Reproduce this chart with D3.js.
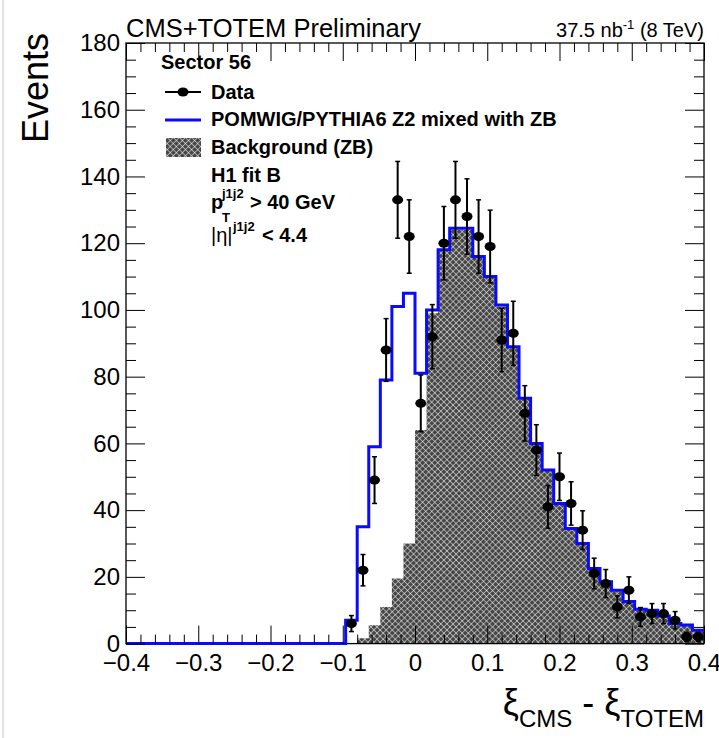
<!DOCTYPE html>
<html><head><meta charset="utf-8">
<script src="https://cdn.jsdelivr.net/npm/d3@7"></script>
<style>
html,body{margin:0;padding:0;background:#fff;}
svg text{font-family:"Liberation Sans",Arial,Helvetica,sans-serif;}
</style></head>
<body><svg id="c" width="719" height="738"></svg>
<script>
// ---- histogram definition: 50 bins from -0.4 to 0.4 ----
const xMin = -0.4, xMax = 0.4, nBins = 50;
// Data (bins 19..49 are non-empty)
const dataFirstBin = 19;
const dataValues = [6,22,49,88,133,122,72,92,120,133,128,122,119,91,93,69,58,41,50,42,34,21,18,11,16,8,9,9,7,2,2];
const dataErrors = [2.4,4.7,7,9.4,11.5,11,8.5,9.6,11,11.5,11.3,11,10.9,9.5,9.6,8.3,7.6,6.4,7.1,6.5,5.8,4.6,4.2,3.3,4,2.8,3,3,2.6,1.4,1.4];
// POMWIG/PYTHIA6 Z2 mixed with ZB (all 50 bins)
const mcValues = [0,0,0,0,0,0,0,0,0,0,0,0,0,0,0,0,0,0,0,
  7,35,59,79,101,105,81,100,118,124.5,124.5,116,110,101.5,89,73.5,60,52,42,34.5,30,22.5,18.5,16,12.6,10.3,10,8.3,6,5.6,4];
// Background (ZB) (all 50 bins)
const bgValues = [0,0,0,0,0,0,0,0,0,0,0,0,0,0,0,0,0,0,0,
  0,1.6,5.5,11,19.5,30,64,99,117.7,124,124,115.7,109.7,101,88.7,73.2,59.7,51.7,41.7,34.2,29.7,22.2,18.2,15.7,12.3,10,9.7,8,5.7,5.3,3.7];
// Axis ticks
const xTicks = [-0.4,-0.3,-0.2,-0.1,0,0.1,0.2,0.3,0.4];
const xTickLabels = ["\u22120.4","\u22120.3","\u22120.2","\u22120.1","0","0.1","0.2","0.3","0.4"];
const yTicks = [0,20,40,60,80,100,120,140,160,180];
const yTickLabels = ["0","20","40","60","80","100","120","140","160","180"];
const legendEntries = ["Data","POMWIG/PYTHIA6 Z2 mixed with ZB","Background (ZB)"];

const W = 719, H = 738;
const L = 126, R = 704, T = 43, B = 643.6;
const svg = d3.select("#c");
const x = d3.scaleLinear().domain([xMin, xMax]).range([L, R]);
const y = d3.scaleLinear().domain([0, 180]).range([B, T]);
const bw = (xMax - xMin) / nBins;
const edges = d3.range(nBins + 1).map(i => xMin + i * bw);

// page border artifact
svg.append("line").attr("x1",3).attr("x2",3).attr("y1",0).attr("y2",H).attr("stroke","#d8d8d8").attr("stroke-width",1.5);

// hatch pattern
const defs = svg.append("defs");
const pat = defs.append("pattern").attr("id","hatch").attr("patternUnits","userSpaceOnUse")
  .attr("width",4.3).attr("height",4.3).attr("patternTransform","rotate(45)");
pat.append("rect").attr("width",4.3).attr("height",4.3).attr("fill","#464646");
pat.append("line").attr("x1",0).attr("y1",0).attr("x2",0).attr("y2",4.3).attr("stroke","#fff").attr("stroke-width",1);
pat.append("line").attr("x1",0).attr("y1",0).attr("x2",4.3).attr("y2",0).attr("stroke","#fff").attr("stroke-width",1);

// background histogram (hatched area)
function stepArea(vals){
  let p = "M" + x(edges[0]) + "," + y(0);
  vals.forEach((v,i) => { p += "L" + x(edges[i]) + "," + y(v) + "L" + x(edges[i+1]) + "," + y(v); });
  p += "L" + x(edges[nBins]) + "," + y(0) + "Z";
  return p;
}
svg.append("path").attr("d", stepArea(bgValues)).attr("fill","url(#hatch)").attr("stroke","none");

// frame
svg.append("rect").attr("x",L).attr("y",T).attr("width",R-L).attr("height",B-T)
  .attr("fill","none").attr("stroke","#000").attr("stroke-width",1.3);

// MC step line
function stepLine(vals){
  let p = "M" + x(edges[0]) + "," + y(vals[0]);
  vals.forEach((v,i) => { p += "L" + x(edges[i]) + "," + y(v) + "L" + x(edges[i+1]) + "," + y(v); });
  return p;
}
svg.append("path").attr("d", stepLine(mcValues)).attr("fill","none").attr("stroke","#0a0aff").attr("stroke-width",3);

// data points
const pts = dataValues.map((v,i) => ({x: xMin + (dataFirstBin + i + 0.5) * bw, v, e: dataErrors[i]}));
const gd = svg.append("g");
pts.forEach(d => {
  const cx = x(d.x);
  gd.append("line").attr("x1",cx).attr("x2",cx).attr("y1",y(d.v - d.e)).attr("y2",y(d.v + d.e)).attr("stroke","#000").attr("stroke-width",2);
  [d.v - d.e, d.v + d.e].forEach(t => gd.append("line").attr("x1",cx-2.5).attr("x2",cx+2.5).attr("y1",y(t)).attr("y2",y(t)).attr("stroke","#000").attr("stroke-width",1.5));
  gd.append("ellipse").attr("cx",cx).attr("cy",y(d.v)).attr("rx",5.5).attr("ry",4.5).attr("fill","#000");
});

// axes ticks (inward)
function noDomain(g){ g.select(".domain").remove(); }
const fs = "24px";
const yAx = svg.append("g").attr("transform",`translate(${L},0)`)
  .call(d3.axisLeft(y).tickValues(yTicks).tickFormat((d,i)=>yTickLabels[i]).tickSize(-19).tickPadding(6)).call(noDomain);
yAx.selectAll("text").attr("font-size",fs).attr("fill","#000").attr("font-family","Liberation Sans, Arial, sans-serif");
svg.append("g").attr("transform",`translate(${L},0)`)
  .call(d3.axisLeft(y).tickValues(d3.range(0,181,5).filter(v=>v%20)).tickFormat("").tickSize(-10)).call(noDomain);
svg.append("g").attr("transform",`translate(${R},0)`)
  .call(d3.axisRight(y).tickValues(yTicks).tickFormat("").tickSize(-19)).call(noDomain);
svg.append("g").attr("transform",`translate(${R},0)`)
  .call(d3.axisRight(y).tickValues(d3.range(0,181,5).filter(v=>v%20)).tickFormat("").tickSize(-10)).call(noDomain);

const xMinor = d3.range(-20,21).filter(i=>i%5!==0).map(i=>i*0.02);
const xAx = svg.append("g").attr("transform",`translate(0,${B})`)
  .call(d3.axisBottom(x).tickValues(xTicks).tickFormat((d,i)=>xTickLabels[i]).tickSize(-18).tickPadding(10)).call(noDomain);
xAx.selectAll("text").attr("font-size",fs).attr("fill","#000").attr("font-family","Liberation Sans, Arial, sans-serif");
svg.append("g").attr("transform",`translate(0,${B})`)
  .call(d3.axisBottom(x).tickValues(xMinor).tickFormat("").tickSize(-9)).call(noDomain);
svg.append("g").attr("transform",`translate(0,${T})`)
  .call(d3.axisTop(x).tickValues(xTicks).tickFormat("").tickSize(-18)).call(noDomain);
svg.append("g").attr("transform",`translate(0,${T})`)
  .call(d3.axisTop(x).tickValues(xMinor).tickFormat("").tickSize(-9)).call(noDomain);
svg.selectAll(".tick line").attr("stroke","#000").attr("stroke-width",1);

// titles
svg.append("text").attr("x",L).attr("y",37).attr("font-size","25.5px").text("CMS+TOTEM Preliminary");
const lumi = svg.append("text").attr("x",R).attr("y",37).attr("text-anchor","end").attr("font-size","20px");
lumi.append("tspan").text("37.5 nb");
lumi.append("tspan").attr("font-size","13px").attr("dy",-8).text("-1");
lumi.append("tspan").attr("dy",8).text(" (8 TeV)");

// y title
svg.append("text").attr("transform","translate(48,33) rotate(-90)").attr("text-anchor","end")
  .attr("font-size","36px").text("Events");

// x title
const xt = svg.append("text").attr("x",R).attr("y",715).attr("text-anchor","end").attr("font-size","36px");
xt.append("tspan").text("\u03be");
xt.append("tspan").attr("font-size","24px").attr("dy",12).text("CMS");
xt.append("tspan").attr("dy",-12).text(" - \u03be");
xt.append("tspan").attr("font-size","24px").attr("dy",12).text("TOTEM");

// legend
const lg = svg.append("g").attr("font-weight","bold").attr("font-size","20px");
lg.append("text").attr("x",161).attr("y",69).text("Sector 56");
// data entry
lg.append("line").attr("x1",165).attr("x2",201).attr("y1",92).attr("y2",92).attr("stroke","#000").attr("stroke-width",2);
lg.append("ellipse").attr("cx",183).attr("cy",92).attr("rx",5.5).attr("ry",4.5).attr("fill","#000");
lg.append("text").attr("x",211).attr("y",98.5).text(legendEntries[0]);
// MC entry
lg.append("line").attr("x1",165).attr("x2",201).attr("y1",120).attr("y2",120).attr("stroke","#0a0aff").attr("stroke-width",3);
lg.append("text").attr("x",211).attr("y",126).text(legendEntries[1]);
// bg entry
lg.append("rect").attr("x",166).attr("y",138).attr("width",35).attr("height",19).attr("fill","url(#hatch)");
lg.append("text").attr("x",211).attr("y",154).text(legendEntries[2]);
lg.append("text").attr("x",211).attr("y",182).text("H1 fit B");
// p_T^{j1j2} > 40 GeV
lg.append("text").attr("x",211).attr("y",209).text("p");
lg.append("text").attr("x",222).attr("y",198).attr("font-size","13px").text("j1j2");
lg.append("text").attr("x",222).attr("y",222).attr("font-size","13px").text("T");
lg.append("text").attr("x",250).attr("y",209).text("> 40 GeV");
// |eta|^{j1j2} < 4.4
lg.append("text").attr("x",211).attr("y",242).attr("font-weight","normal").text("|\u03b7|");
lg.append("text").attr("x",233).attr("y",231).attr("font-size","13px").text("j1j2");
lg.append("text").attr("x",262).attr("y",242).text("< 4.4");
</script></body></html>
